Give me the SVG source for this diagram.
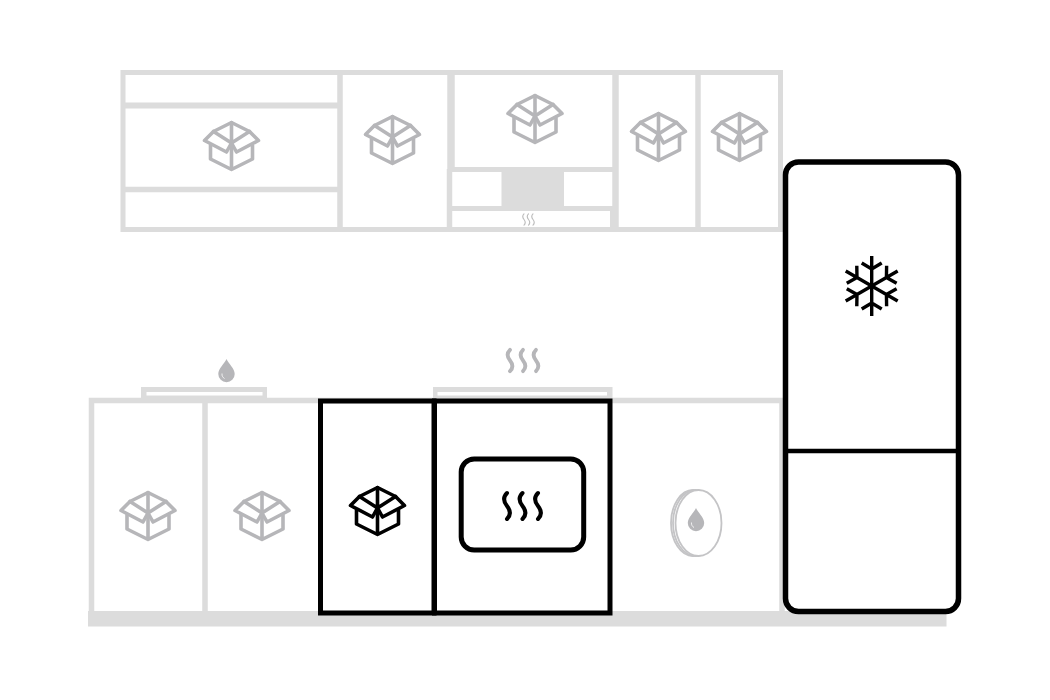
<svg xmlns="http://www.w3.org/2000/svg" width="1050" height="700" viewBox="0 0 1050 700">
<style>
.fr{fill:none;stroke:#dcdcdc}
.k{fill:none;stroke:#000}
.gi{stroke:#b6b6b9;fill:none}
.bi{stroke:#000;fill:none}
.fill-g{fill:#dcdcdc}
.w{fill:#fff}
.drop{fill:#b6b6b9}
</style>
<defs>
<g id="box" stroke-width="3.6" stroke-linejoin="round" stroke-linecap="round">
<path d="M0,-23.5L-18,-14.5L-27,-5.5L-5,6L0,-3L5,6L27,-5.5L18,-14.5Z"/>
<path d="M-18,-14.5L0,-3L18,-14.5M0,-23.5V23.5M-21,-1V13L0,23.5L21,13V-1"/>
</g>
<path id="wave" d="M0,-13C-4,-9 -4,-5 0,0C4,5 4,9 0,13" stroke-linecap="round"/>
<g id="arm" stroke-linecap="butt"><path d="M0,0V-30M-10,-23L0,-17L10,-23"/></g>
<g id="dropg"><path class="drop" d="M0,-11.5C2,-7 8.2,-2 8.2,3.5A8.2,8.2 0 0 1 -8.2,3.5C-8.2,-2 -2,-7 0,-11.5Z"/><path d="M-4.5,3C-4.8,5.5 -3.5,7.2 -2,8" fill="none" stroke="#fff" stroke-width=".8"/></g>
</defs>
<rect width="1050" height="700" fill="#fff"/>

<g id="upper-cabinets">
<rect class="fr" x="123" y="72.5" width="657.5" height="157" stroke-width="5"/>
<path class="fr" stroke-width="6" d="M123,105.5H340"/>
<path class="fr" stroke-width="5.5" d="M123,189.5H340M340,72.5V229.5"/>
<path class="fr" stroke-width="7.5" d="M451,72.5V169"/>
<path class="fr" stroke-width="5.5" d="M449.5,169V229.5"/>
<path class="fr" stroke-width="6.5" d="M615.5,72.5V229.5"/>
<path class="fr" stroke-width="5.5" d="M698,72.5V229.5"/>
<path class="fr" stroke-width="5" d="M450,169.5H615"/>
<rect class="fill-g" x="501.5" y="172" width="62.5" height="34"/>
<rect class="fill-g" x="450" y="206" width="165" height="5"/>
<rect class="fill-g" x="610" y="206" width="6" height="22"/>
</g>
<g id="upper-steam" fill="none" stroke="#bcbcbc">
<use href="#wave" transform="translate(524,219.5) scale(.43)" stroke-width="2.6"/>
<use href="#wave" transform="translate(528.5,219.5) scale(.43)" stroke-width="2.6"/>
<use href="#wave" transform="translate(533,219.5) scale(.43)" stroke-width="2.6"/>
</g>

<g id="lower-cabinets">
<rect class="fill-g" x="88" y="611" width="858.5" height="15.5"/>
<path class="fr" stroke-width="5.5" d="M91.5,612V400.5H782V612M205,400.5V612"/>
<rect class="fill-g" x="141" y="387" width="126" height="13"/>
<rect class="w" x="146.5" y="392" width="116" height="3.5"/>
<rect class="fill-g" x="433" y="387" width="179.5" height="13"/>
<rect class="w" x="437.5" y="392" width="169.5" height="3.5"/>
</g>

<g id="box-icons">
<use href="#box" class="gi" x="231.5" y="146"/>
<use href="#box" class="gi" x="392.5" y="140"/>
<use href="#box" class="gi" x="535" y="119"/>
<use href="#box" class="gi" x="658.5" y="137"/>
<use href="#box" class="gi" x="739.5" y="137"/>
<use href="#box" class="gi" x="148" y="516"/>
<use href="#box" class="gi" x="262" y="516"/>
</g>

<g id="sink-drop"><use href="#dropg" x="226.5" y="370.5"/></g>
<g id="hob-steam" fill="none" stroke="#b6b6b9" stroke-width="4.6">
<use href="#wave" transform="translate(510,360.5) scale(.82)"/>
<use href="#wave" transform="translate(523,360.5) scale(.82)"/>
<use href="#wave" transform="translate(536,360.5) scale(.82)"/>
</g>

<g id="dishwasher" fill="#fff" stroke="#c4c4c6" stroke-width="1.8">
<ellipse cx="693" cy="523" rx="22" ry="33"/>
<ellipse cx="695.5" cy="523" rx="22.5" ry="33"/>
<ellipse cx="698.5" cy="523" rx="23" ry="33"/>
<g stroke="none"><use href="#dropg" x="696" y="519.5"/></g>
</g>

<g id="tall-cupboard">
<rect class="k" x="320.5" y="401" width="113.5" height="212" stroke-width="5" fill="#fff"/>
<use href="#box" class="bi" x="377.5" y="511"/>
</g>

<g id="oven">
<rect class="k" x="434.5" y="401" width="175.5" height="212" stroke-width="5"/>
<rect class="k" x="461.2" y="459" width="122.5" height="91" rx="13" stroke-width="5"/>
<g class="k" stroke-width="4">
<use href="#wave" transform="translate(507,506)"/>
<use href="#wave" transform="translate(522.5,506)"/>
<use href="#wave" transform="translate(538,506)"/>
</g>
</g>

<g id="fridge">
<rect class="k" x="785.5" y="162" width="173" height="449.5" rx="13" fill="#fff" stroke-width="5.5"/>
<path class="k" stroke-width="4.5" d="M785.5,451H958.5"/>
<g class="k" stroke-width="3.4" transform="translate(871.7,286)">
<use href="#arm"/>
<use href="#arm" transform="rotate(60)"/>
<use href="#arm" transform="rotate(120)"/>
<use href="#arm" transform="rotate(180)"/>
<use href="#arm" transform="rotate(240)"/>
<use href="#arm" transform="rotate(300)"/>
</g>
</g>
</svg>
